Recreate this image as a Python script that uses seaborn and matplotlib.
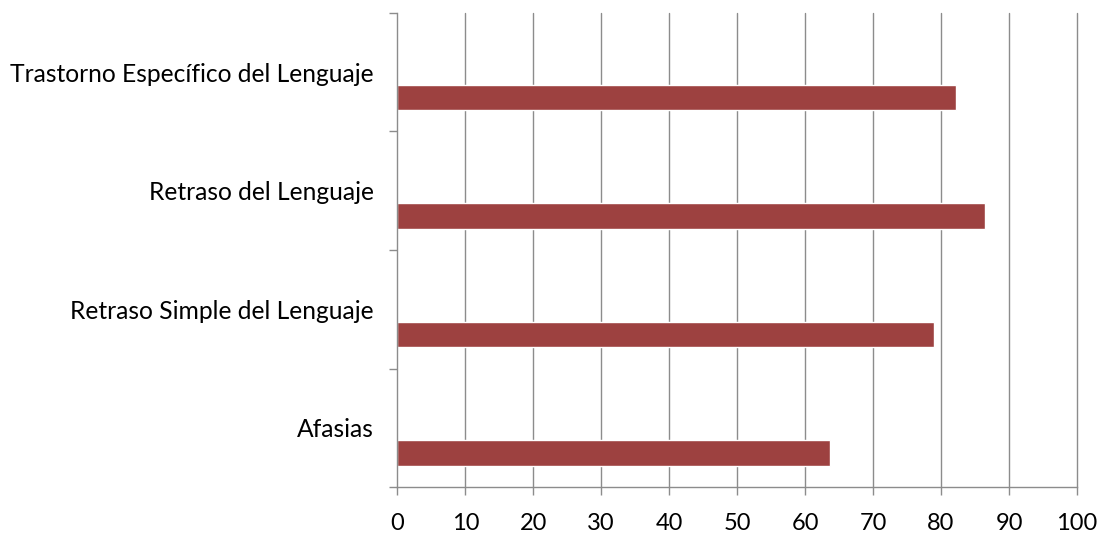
import matplotlib
matplotlib.use("Agg")
import matplotlib.pyplot as plt
import seaborn as sns
import pandas as pd
from matplotlib.ticker import FixedLocator

# Categories listed top to bottom, with their percentages
categories = [
    "Trastorno Específico del Lenguaje",
    "Retraso del Lenguaje",
    "Retraso Simple del Lenguaje",
    "Afasias",
]
values = [82.2, 86.4, 78.9, 63.6]
x_ticks = [0, 10, 20, 30, 40, 50, 60, 70, 80, 90, 100]

df = pd.DataFrame({"categoria": categories, "valor": values})

sns.set_theme(style="white")
plt.rcParams["font.family"] = ["Lato", "DejaVu Sans"]

bar_color = "#9d4140"
grid_color = "#8c8c8c"

fig = plt.figure(figsize=(11.05, 5.35), dpi=100)
ax = fig.add_axes([397.3 / 1105, 48 / 535, (1077 - 397.3) / 1105, (487 - 13) / 535])

sns.barplot(data=df, x="valor", y="categoria", order=categories,
            color=bar_color, saturation=1, width=0.215, orient="h", ax=ax)

# Each category band is one unit tall; the bar sits in the lower part of it
shift = 0.2125
n = len(categories)
ax.set_ylim(n - 1 + 0.5 - shift, -0.5 - shift)

ax.set_xlim(0, 100)
ax.xaxis.set_major_locator(FixedLocator(x_ticks))
ax.set_xticklabels([str(t) for t in x_ticks])

# Category labels at band centres, tick marks at band edges
centers = [i - shift for i in range(n)]
edges = [i - shift - 0.5 for i in range(n + 1)]
ax.yaxis.set_major_locator(FixedLocator(centers))
ax.set_yticklabels(categories)
ax.yaxis.set_minor_locator(FixedLocator(edges))

ax.set_xlabel("")
ax.set_ylabel("")

ax.grid(False)
for t in x_ticks[1:]:
    ax.axvline(t, color=grid_color, linewidth=1.0, zorder=0, clip_on=False)

for side in ("top", "right"):
    ax.spines[side].set_visible(False)
for side in ("left", "bottom"):
    ax.spines[side].set_visible(True)
    ax.spines[side].set_color(grid_color)
    ax.spines[side].set_linewidth(1.0)

ax.tick_params(axis="y", which="major", length=0, pad=17, labelsize=17.7, labelcolor="#000000")
ax.tick_params(axis="y", which="minor", left=True, length=5.8, width=1.0, color=grid_color)
ax.tick_params(axis="x", which="major", bottom=True, length=5.8, width=1.0,
               color=grid_color, pad=13, labelsize=17, labelcolor="#000000")

fig.savefig("out.png", dpi=100, facecolor="white")
